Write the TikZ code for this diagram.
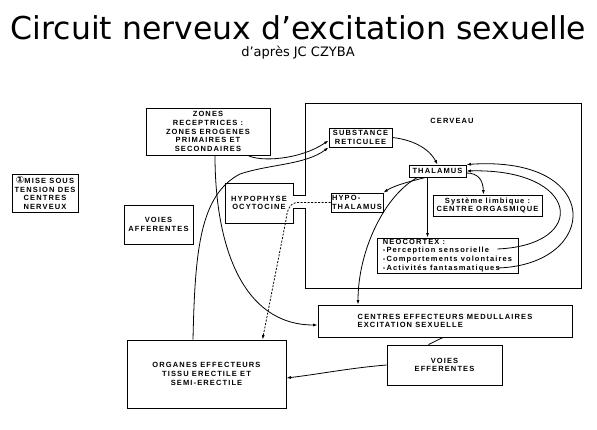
\documentclass[tikz,border=0pt]{standalone}
\usepackage{fontspec}
\usepackage{tikz}
\usetikzlibrary{arrows.meta, positioning}
\newfontfamily\titlefont{DejaVu Sans}
\newfontfamily\boxfont[LetterSpace=15]{Liberation Sans}
\newfontfamily\circfont{DejaVu Sans}

\begin{document}
\begin{tikzpicture}[
  x=1pt, y=-1pt,
  box/.style={draw, line width=0.9pt, inner sep=0.5pt, align=center, font=\boxfont\bfseries\fontsize{7.5}{8.7}\selectfont},
  lbl/.style={inner sep=0pt, align=center, font=\boxfont\bfseries\fontsize{7.5}{8.7}\selectfont},
  arr/.style={-{Latex[length=4.5pt,width=3pt]}, line width=0.8pt}
]
  \useasboundingbox (0,0) rectangle (597,430);
  \node[font=\titlefont\fontsize{31.5}{36}\selectfont, anchor=base] (title) at (298.5,40) {Circuit nerveux d’excitation sexuelle};
  \node[font=\titlefont\fontsize{13}{15}\selectfont, anchor=base] (sub) at (298,57) {d’après JC CZYBA};

  % cerveau + hypophyse outline
  \draw[line width=0.9pt] (305,195) -- (305,103) -- (581,103) -- (581,288) -- (305,288) -- (305,208)
    -- (293,208) -- (293,223) -- (225,223) -- (225,183) -- (293,183) -- (293,195) -- cycle;
  \node[lbl] (cerveau) at (452,121) {CERVEAU};
  \node[lbl] (hypoph) at (259,203) {HYPOPHYSE\\OCYTOCINE};

  \node[box, minimum width=66pt, minimum height=38pt] (tension) at (45,193) {{\circfont\fontsize{10}{8.7}\selectfont ①}MISE SOUS\\TENSION DES\\CENTRES\\NERVEUX};
  \node[box, minimum width=124pt, minimum height=47pt] (zones) at (208,131.5) {ZONES\\RECEPTRICES :\\ZONES EROGENES\\PRIMAIRES ET\\SECONDAIRES};
  \node[box, minimum width=69pt, minimum height=39pt] (affer) at (158.5,224.5) {VOIES\\AFFERENTES};
  \node[box, minimum width=63pt, minimum height=19pt] (subst) at (360.5,137.5) {SUBSTANCE\\RETICULEE};
  \node[box, minimum width=57pt, minimum height=12pt] (thal) at (437.5,171) {THALAMUS};
  \node[box, minimum width=52pt, minimum height=19pt, align=left] (hypoth) at (357,202.5) {HYPO-\\THALAMUS};
  \node[box, minimum width=109pt, minimum height=21pt] (limb) at (487.5,205.5) {Système limbique :\\CENTRE ORGASMIQUE};
  \node[box, minimum width=141pt, minimum height=35pt, align=left] (neo) at (447.5,255.5) {NEOCORTEX :\\-Perception sensorielle\\-Comportements volontaires\\-Activités fantasmatiques};
  \node[box, minimum width=254pt, minimum height=32pt, align=left] (centres) at (445,321) {CENTRES EFFECTEURS MEDULLAIRES\\EXCITATION SEXUELLE};
  \node[box, minimum width=115pt, minimum height=40pt] (effer) at (444.5,365) {VOIES\\EFFERENTES};
  \node[box, minimum width=159pt, minimum height=68pt] (organes) at (206.5,374) {ORGANES EFFECTEURS\\TISSU ERECTILE ET\\SEMI-ERECTILE};

  \draw[arr] ([xshift=40pt]zones.south) .. controls (260,162) and (300,160) .. ([yshift=-3pt]subst.west);
  \draw[arr] ([xshift=-13.5pt]organes.north) .. controls (195,250) and (200,195) .. (240,174)
    .. controls (270,164) and (305,165) .. (subst.south west);
  \draw[arr] ([xshift=7pt]zones.south) .. controls (215,245) and (242,325) .. ([yshift=-4pt]centres.west);
  \draw[arr, dash pattern=on 2pt off 1.5pt] (hypoth.west) -- (298,202.5) .. controls (290,202.5) and (287,210) .. (286,220)
    -- ([xshift=56pt]organes.north);
  \draw[arr] (subst.east) .. controls (415,140) and (430,150) .. (thal.north);
  \draw[arr] ([xshift=-12pt]thal.south) .. controls (412,181) and (395,185) .. (hypoth.north east);
  \draw[arr] ([xshift=-10pt]thal.south) -- ([xshift=-20pt]neo.north);
  \draw[arr] ([yshift=-2pt]thal.east) .. controls (478,173) and (483,180) .. ([xshift=-4pt]limb.north);
  \draw[arr] ([xshift=-20pt]thal.south) .. controls (385,195) and (358,250) .. ([xshift=-87pt]centres.north);
  \draw[arr] ([xshift=-21pt,yshift=6.5pt]neo.east) .. controls (590,245) and (580,168) .. (thal.east);
  \draw[arr] ([xshift=-21pt,yshift=-12.5pt]neo.east) .. controls (600,265) and (605,155) .. (thal.north east);
  \draw[line width=0.8pt] ([xshift=-2pt]centres.south) -- ([xshift=-16pt]effer.north);
  \draw[arr] (effer.west) .. controls (350,368) and (320,374) .. ([yshift=-4pt]organes.east);
\end{tikzpicture}
\end{document}
